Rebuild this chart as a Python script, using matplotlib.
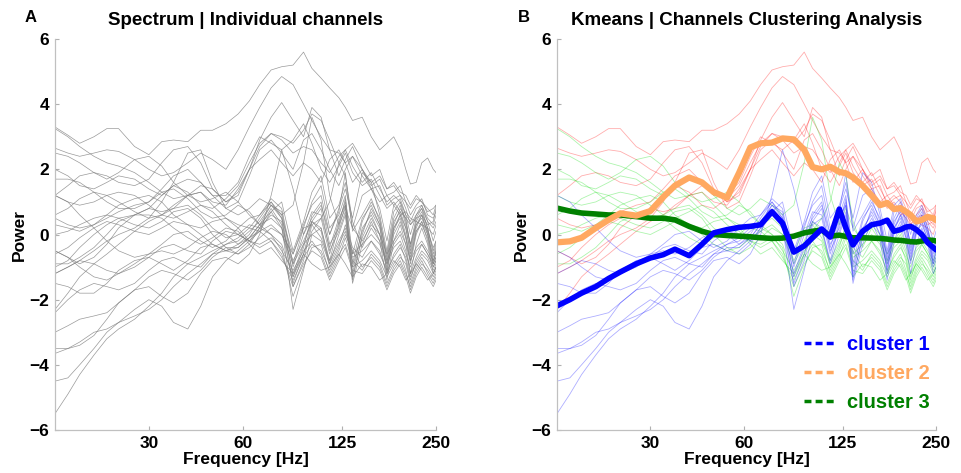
import matplotlib
matplotlib.use("Agg")
import matplotlib.pyplot as plt
from matplotlib.lines import Line2D
from matplotlib.ticker import NullLocator

plt.rcParams['font.family'] = ['Liberation Sans', 'DejaVu Sans']
plt.rcParams['font.weight'] = 'bold'

# frequency bins (Hz)
freqs = [15, 16.5, 18, 20, 22, 24, 27, 30, 33, 36,
         40, 44, 48, 53, 58, 63, 68, 74, 80, 87,
         94, 100, 107, 114, 122, 128, 135, 145, 155, 165,
         174, 183, 192, 200, 207, 216, 225, 235, 245, 250]

xticks = [30, 60, 125, 250]
yticks = [-6, -4, -2, 0, 2, 4, 6]

# cluster 1 (blue) channels
cluster1_channels = [
    [-5.5, -4.9, -4.3, -3.7, -3.2, -2.9, -2.6, -2.2, -1.8, -1.3, -0.9, -0.7, -0.5, -0.3, -0.2, 0.1, 0.4, 0.9, 0.5, -1.6,
     -0.8, 0.3, 0.5, -0.6, 0.4, 1.0, -1.2, 0.2, 0.6, 0.0, -1.0, 0.2, 0.5, -0.1, -0.8, 0.1, 0.3, -0.1, -0.9, -0.5],
    [-4.5, -4.4, -4.0, -3.5, -3.0, -2.7, -2.5, -2.3, -2.0, -1.6, -1.2, -0.9, -0.6, -0.5, -0.3, 0.0, 0.5, 1.0, 0.6, -1.3,
     -0.4, 0.6, 1.0, -0.3, 0.2, 0.9, -1.4, 0.0, 0.8, 0.3, -1.2, 0.1, 0.6, 0.2, -0.6, 0.2, 0.6, 0.0, -0.7, -0.4],
    [-3.65, -3.5, -3.3, -3.0, -2.9, -2.7, -2.3, -2.0, -2.2, -2.7, -2.9, -2.2, -1.3, -0.8, -0.5, -0.2, 0.2, 0.8, 0.3, -2.3,
     -1.1, 0.0, 0.2, -0.9, 0.0, 0.6, -1.5, -0.3, 0.4, -0.2, -1.4, -0.2, 0.3, -0.3, -1.2, -0.3, 0.2, -0.3, -1.2, -1.0],
    [-3.5, -3.5, -3.4, -3.1, -2.6, -2.1, -1.7, -1.6, -1.9, -2.1, -1.8, -1.2, -0.8, -0.7, -0.9, -0.6, 0.0, 1.2, 2.6, 1.4,
     0.0, 0.5, 0.9, 0.0, 0.8, 1.4, 0.5, 1.9, 1.6, 0.6, -0.5, 0.7, 1.0, 0.4, -0.3, 0.5, 0.8, 0.2, -0.5, -0.2],
    [-3.0, -2.8, -2.6, -2.5, -2.4, -2.1, -1.7, -1.3, -1.1, -1.2, -1.4, -1.1, -0.7, -0.4, -0.4, -0.1, 0.3, 0.7, 0.2, -1.5,
     -0.6, 0.4, 0.8, -0.5, 0.1, 0.7, -1.3, -0.1, 0.5, 0.0, -1.1, 0.0, 0.4, -0.1, -0.9, 0.0, 0.4, -0.2, -1.0, -0.8],
    [-2.4, -2.0, -1.7, -1.5, -1.6, -1.7, -1.5, -1.1, -0.8, -0.7, -0.9, -1.0, -0.6, -0.3, -0.1, 0.2, 0.6, 1.1, 0.8, -0.9,
     0.2, 1.0, 1.5, 0.2, 0.6, 1.2, -0.9, 0.4, 1.0, 0.5, -0.8, 0.3, 0.8, 0.5, -0.4, 0.4, 0.7, 0.2, -0.6, -0.3],
    [-1.5, -1.6, -1.8, -1.8, -1.5, -1.1, -0.8, -0.7, -0.9, -1.1, -0.8, -0.4, -0.3, -0.5, -0.6, -0.3, 0.2, 0.6, 0.4, -1.2,
     -0.3, 0.4, 0.2, -0.8, 0.3, 1.1, -0.6, 0.5, 0.9, 0.3, -0.7, 0.4, 0.7, 0.2, -0.5, 0.3, 0.5, 0.1, -0.8, -0.6],
    [-1.2, -1.0, -0.8, -0.9, -1.1, -1.2, -1.0, -0.7, -0.4, -0.3, -0.5, -0.6, -0.2, 0.1, 0.0, -0.2, 0.1, 0.7, 1.0, -0.5,
     0.4, 1.3, 1.8, 0.5, 0.9, 1.6, 0.2, 1.2, 1.4, 0.8, -0.2, 0.9, 1.1, 0.6, 0.0, 0.6, 0.9, 0.4, -0.2, 0.1],
    [-0.5, -0.7, -1.0, -1.3, -1.4, -1.2, -0.9, -0.6, -0.5, -0.6, -0.4, -0.1, 0.1, 0.0, -0.3, -0.1, 0.3, 0.9, 0.7, -1.0,
     0.0, 0.7, 0.6, -0.4, 0.5, 0.9, -1.0, 0.1, 0.7, 0.2, -0.9, 0.2, 0.6, 0.0, -0.7, 0.1, 0.4, 0.0, -0.9, -0.7],
    [1.2, 1.0, 0.6, 0.2, -0.2, -0.5, -0.7, -0.6, -0.3, 0.0, 0.1, -0.2, -0.4, -0.2, 0.2, 0.5, 0.6, 1.0, 0.5, -0.6,
     0.3, 0.9, 1.2, 0.0, 0.7, 1.9, 0.1, 0.6, 1.1, 0.4, -0.6, 0.5, 0.9, 0.3, -0.3, 0.3, 0.6, 0.1, -0.4, -0.2],
]

# cluster 2 (red) channels
cluster2_channels = [
    [3.3, 3.05, 2.8, 3.0, 3.25, 3.25, 2.7, 2.45, 2.85, 2.9, 2.85, 3.2, 3.2, 3.4, 3.7, 4.1, 4.6, 5.05, 5.15, 5.2,
     5.6, 5.1, 4.8, 4.5, 4.2, 3.9, 3.5, 3.6, 3.0, 2.6, 2.8, 3.0, 2.6, 2.0, 1.55, 1.6, 2.2, 2.35, 2.0, 1.9],
    [2.65, 2.5, 2.4, 2.5, 2.6, 2.55, 2.3, 2.0, 1.8, 1.9, 2.2, 2.5, 2.3, 2.0, 2.6, 3.3, 3.9, 4.5, 4.85, 4.6,
     4.0, 3.5, 3.0, 2.6, 2.5, 2.2, 2.4, 2.0, 1.6, 1.8, 1.4, 1.5, 1.2, 1.0, 0.8, 1.1, 1.0, 0.7, 0.8, 0.9],
    [1.2, 1.5, 1.8, 1.9, 1.8, 1.6, 1.5, 1.7, 2.2, 2.6, 2.7, 2.2, 1.4, 1.0, 1.2, 2.0, 2.9, 3.6, 4.05, 3.5,
     3.0, 3.9, 3.6, 2.6, 1.8, 2.3, 2.7, 2.0, 1.5, 1.7, 1.2, 1.3, 1.5, 1.0, 0.6, 0.9, 1.1, 0.6, 0.5, 0.7],
    [-1.0, -0.8, -0.4, 0.0, 0.3, 0.5, 0.6, 0.8, 1.2, 1.5, 1.3, 0.9, 0.8, 1.1, 1.5, 2.2, 2.8, 3.1, 3.0, 2.8,
     3.2, 3.7, 3.5, 2.9, 2.2, 2.6, 2.8, 2.3, 1.8, 2.0, 1.4, 1.6, 1.3, 1.2, 0.9, 1.2, 1.0, 0.8, 0.6, 0.9],
    [-2.3, -1.8, -1.3, -0.9, -0.6, -0.3, 0.1, 0.4, 0.6, 0.9, 1.2, 1.5, 1.4, 1.0, 1.3, 2.0, 2.7, 3.1, 2.9, 2.5,
     2.7, 2.6, 2.2, 1.9, 2.4, 2.6, 2.1, 1.6, 1.9, 1.4, 1.0, 1.2, 1.0, 0.6, 0.4, 0.8, 0.9, 0.5, 0.3, 0.6],
    [-1.2, -1.0, -0.8, -0.5, -0.2, 0.0, 0.2, 0.5, 1.0, 1.6, 2.5, 2.6, 1.6, 0.8, 1.0, 1.8, 2.6, 2.9, 2.5, 2.0,
     2.9, 3.1, 2.6, 2.0, 1.5, 2.0, 2.4, 1.8, 1.4, 1.5, 0.9, 1.1, 1.2, 0.8, 0.3, 0.6, 0.8, 0.4, 0.2, 0.4],
    [0.5, 0.3, 0.2, 0.3, 0.5, 0.7, 0.9, 1.0, 1.4, 1.8, 2.0, 1.6, 1.2, 1.2, 1.6, 2.4, 3.0, 2.8, 2.6, 2.9,
     3.4, 2.8, 2.0, 1.6, 2.1, 2.5, 1.9, 1.5, 1.7, 1.2, 0.8, 1.0, 0.7, 0.5, 0.3, 0.5, 0.6, 0.3, 0.4, 0.8],
    [-0.5, -0.7, -0.9, -0.7, -0.3, 0.2, 0.6, 0.8, 0.7, 0.8, 1.2, 1.3, 1.0, 0.9, 1.4, 2.0, 2.3, 2.6, 2.2, 1.8,
     2.2, 2.0, 1.6, 2.3, 2.6, 2.2, 1.6, 2.0, 1.4, 1.0, 1.2, 0.9, 0.6, 0.7, 0.5, 0.4, 0.3, 0.2, 0.0, 0.3],
]

# cluster 3 (green) channels
cluster3_channels = [
    [3.25, 3.0, 2.7, 2.4, 2.2, 2.1, 1.9, 1.6, 1.3, 1.1, 1.2, 1.3, 0.9, 0.5, 0.3, 0.2, 0.1, 0.3, 0.0, -0.6,
     0.2, 0.3, -0.1, -0.8, -0.2, 0.2, -0.6, -0.3, 0.0, -0.3, -0.9, -0.4, -0.2, -0.6, -1.0, -0.5, -0.3, -0.6, -0.9, -0.7],
    [2.5, 2.4, 2.2, 1.9, 1.7, 1.9, 2.3, 2.4, 2.1, 1.6, 1.2, 1.0, 1.1, 1.3, 1.0, 0.6, 0.3, 0.5, 0.2, -0.8,
     -0.2, 0.4, 0.1, -1.0, -0.4, 0.3, -0.4, -0.7, -0.2, -0.5, -1.2, -0.6, -0.3, -0.8, -1.4, -0.8, -0.5, -0.7, -1.1, -0.9],
    [2.0, 1.8, 1.5, 1.4, 1.6, 1.8, 1.7, 1.4, 1.2, 1.5, 1.7, 1.6, 1.2, 0.8, 0.6, 0.8, 1.1, 0.9, 0.6, 0.9,
     2.2, 3.6, 2.9, 1.2, 0.3, 0.8, 0.2, -0.2, 0.3, 0.0, -0.6, -0.2, 0.1, -0.3, -0.8, -0.4, -0.2, -0.5, -0.8, -0.5],
    [1.7, 1.7, 1.6, 1.3, 1.0, 0.8, 0.8, 1.0, 1.3, 1.4, 1.1, 0.7, 0.5, 0.6, 0.9, 0.7, 0.3, 0.0, -0.3, -1.3,
     -0.6, 0.1, 0.5, 1.0, 2.2, 1.8, 0.4, -0.4, 0.2, -0.2, -0.8, -0.3, 0.0, -0.5, -1.2, -0.7, -0.3, -0.6, -1.0, -0.8],
    [1.2, 1.0, 0.9, 1.0, 1.2, 1.3, 1.2, 0.9, 0.6, 0.5, 0.7, 0.9, 0.7, 0.3, 0.0, -0.2, -0.3, -0.1, -0.4, -1.9,
     -1.0, -0.4, -0.3, -1.2, -0.6, -0.3, -1.0, -0.8, -0.5, -0.8, -1.3, -0.9, -0.6, -1.1, -1.7, -1.2, -0.9, -1.1, -1.4, -1.2],
    [0.6, 0.8, 1.1, 1.3, 1.2, 1.0, 0.7, 0.5, 0.6, 0.8, 0.9, 0.6, 0.2, -0.1, 0.0, 0.3, 0.2, 0.0, -0.5, -1.1,
     -0.5, -0.2, -0.6, -1.3, -0.7, -0.1, -0.8, -1.1, -0.6, -0.9, -1.5, -1.0, -0.7, -0.9, -1.5, -1.0, -0.7, -1.0, -1.3, -1.1],
    [0.3, 0.2, 0.1, 0.3, 0.6, 0.9, 1.1, 1.2, 1.0, 0.6, 0.3, 0.2, 0.4, 0.5, 0.2, -0.2, -0.4, -0.2, -0.7, -1.4,
     -0.7, -0.3, -0.5, -1.1, -0.5, 0.0, -0.5, -1.0, -0.7, -1.0, -1.6, -1.1, -0.8, -1.2, -1.6, -1.1, -0.8, -1.2, -1.5, -1.3],
    [0.0, 0.1, 0.3, 0.5, 0.6, 0.5, 0.3, 0.2, 0.4, 0.7, 0.8, 0.5, 0.0, -0.4, -0.6, -0.4, -0.1, 0.2, 0.0, -0.9,
     -0.3, 0.0, -0.2, -0.9, -0.3, 0.1, -0.7, -0.5, -0.2, -0.6, -1.1, -0.7, -0.4, -0.7, -1.3, -0.9, -0.6, -0.8, -1.2, -1.0],
    [-0.6, -0.4, -0.1, 0.2, 0.4, 0.3, 0.1, 0.0, 0.2, 0.4, 0.3, 0.0, -0.3, -0.5, -0.4, -0.1, 0.1, -0.2, -0.6, -1.6,
     -0.9, -0.5, -0.7, -1.4, -0.8, -0.4, -1.1, -1.2, -0.8, -1.1, -1.7, -1.2, -0.9, -1.3, -1.8, -1.3, -1.0, -1.3, -1.6, -1.4],
    [-0.9, -0.9, -0.7, -0.4, 0.0, 0.4, 0.6, 0.6, 0.5, 0.2, -0.1, -0.3, -0.1, 0.2, 0.1, -0.3, -0.6, -0.4, -0.8, -1.2,
     -0.6, -0.9, -1.1, -1.0, -0.6, -0.9, -1.3, -0.9, -1.0, -1.4, -1.2, -0.8, -1.0, -1.4, -1.2, -0.9, -1.1, -1.4, -1.2, -1.0],
]

# cluster centroids (thick lines)
cluster1_mean = [-2.19, -2.0, -1.8, -1.6, -1.35, -1.15, -0.9, -0.72, -0.62, -0.45,
                 -0.65, -0.3, 0.05, 0.15, 0.22, 0.25, 0.3, 0.7, 0.35, -0.54,
                 -0.35, -0.1, 0.17, -0.08, 0.78, 0.2, -0.32, 0.1, 0.3, 0.35,
                 0.44, 0.1, 0.15, 0.23, 0.25, 0.15, 0.0, -0.25, -0.4, -0.47]
cluster2_mean = [-0.24, -0.21, -0.1, 0.2, 0.45, 0.65, 0.58, 0.72, 1.15, 1.5,
                 1.75, 1.6, 1.3, 1.13, 1.9, 2.67, 2.8, 2.82, 2.95, 2.92,
                 2.6, 2.07, 2.0, 2.08, 1.92, 1.88, 1.75, 1.5, 1.2, 0.9,
                 0.97, 0.78, 0.81, 0.7, 0.6, 0.4, 0.45, 0.54, 0.5, 0.44]
cluster3_mean = [0.81, 0.72, 0.66, 0.63, 0.6, 0.6, 0.55, 0.5, 0.5, 0.45,
                 0.25, 0.1, 0.0, -0.03, -0.05, -0.07, -0.1, -0.12, -0.11, -0.05,
                 0.05, 0.1, 0.14, -0.05, -0.02, -0.06, -0.1, -0.1, -0.11, -0.12,
                 -0.14, -0.17, -0.18, -0.2, -0.22, -0.23, -0.2, -0.17, -0.18, -0.2]

cluster_labels = ['cluster 1', 'cluster 2', 'cluster 3']
thin_colors = ['#0000ff', '#ff0000', '#00dd00']
mean_colors = ['#0000ff', '#ffa860', '#008000']


def style_axes(ax, title):
    ax.set_xscale('log')
    ax.set_xlim(15, 250)
    ax.set_ylim(-6, 6)
    ax.xaxis.set_minor_locator(NullLocator())
    ax.set_xticks(xticks)
    ax.set_xticklabels([str(t) for t in xticks])
    ax.set_yticks(yticks)
    ax.tick_params(direction='in', length=3, color='#b0b0b0', labelsize=12.5, pad=4)
    for side in ['top', 'right']:
        ax.spines[side].set_visible(False)
    for side in ['left', 'bottom']:
        ax.spines[side].set_color('#c0c0c0')
        ax.spines[side].set_linewidth(0.9)
    ax.set_xlabel('Frequency [Hz]', fontsize=12.5, fontweight='bold', labelpad=1)
    ax.set_ylabel('Power', fontsize=12.5, fontweight='bold', labelpad=2)
    ax.set_title(title, fontsize=13.5, fontweight='bold', pad=10)


fig = plt.figure(figsize=(9.61, 4.73), dpi=100)
ax_a = fig.add_axes([0.0572, 0.0909, 0.3965, 0.8266])
ax_b = fig.add_axes([0.5796, 0.0909, 0.3944, 0.8266])

all_channels = cluster1_channels + cluster2_channels + cluster3_channels
for ch in all_channels:
    ax_a.plot(freqs, ch, color='0.5', lw=0.5, alpha=0.8)
style_axes(ax_a, 'Spectrum | Individual channels')

for chans, col in zip([cluster2_channels, cluster3_channels, cluster1_channels],
                      [thin_colors[1], thin_colors[2], thin_colors[0]]):
    for ch in chans:
        ax_b.plot(freqs, ch, color=col, lw=0.6, alpha=0.32)

ax_b.plot(freqs, cluster3_mean, color=mean_colors[2], lw=4, solid_capstyle='round')
ax_b.plot(freqs, cluster2_mean, color=mean_colors[1], lw=4.5, solid_capstyle='round')
ax_b.plot(freqs, cluster1_mean, color=mean_colors[0], lw=4, solid_capstyle='round')
style_axes(ax_b, 'Kmeans | Channels Clustering Analysis')

fig.text(31 / 961, 1 - 17 / 473, 'A', fontsize=12, fontweight='bold', ha='center', va='center')
fig.text(524 / 961, 1 - 17 / 473, 'B', fontsize=12, fontweight='bold', ha='center', va='center')

handles = [Line2D([], [], color=c, lw=2.5, linestyle=(0, (2, 1.2))) for c in mean_colors]
leg = ax_b.legend(handles, cluster_labels, loc='lower right', bbox_to_anchor=(1.03, 0.0),
                  frameon=False, handlelength=1.6, handletextpad=0.5, labelspacing=0.5,
                  prop={'size': 14.5, 'weight': 'bold'})
for txt, c in zip(leg.get_texts(), mean_colors):
    txt.set_color(c)

fig.savefig('out.png', dpi=100)
